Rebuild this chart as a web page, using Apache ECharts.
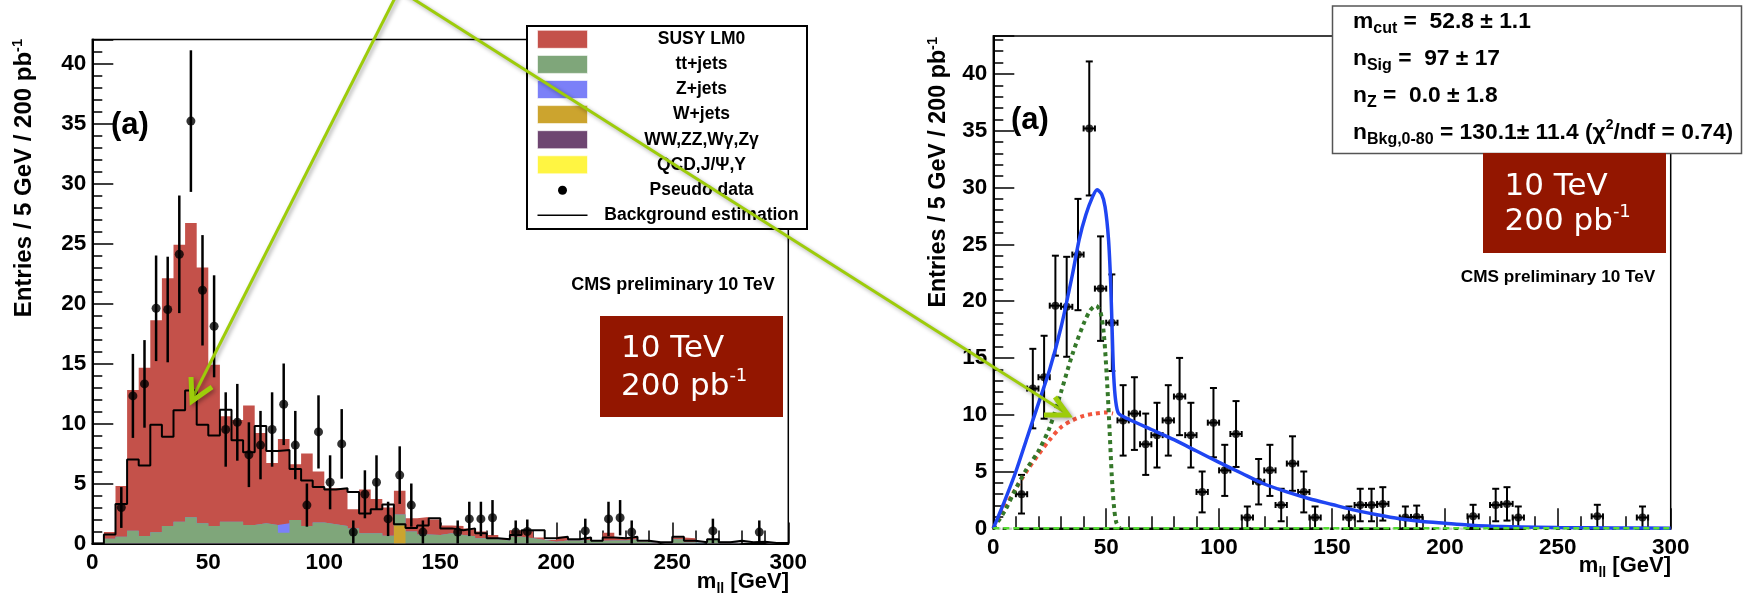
<!DOCTYPE html>
<html>
<head>
<meta charset="utf-8">
<script src="https://cdn.jsdelivr.net/npm/echarts@6.0.0/dist/echarts.min.js"></script>
<style>
html,body{margin:0;padding:0;background:#fff;}
#chart{width:1743px;height:597px;}
</style>
</head>
<body>
<div id="chart"></div>
<script>
// ---------------- data ----------------
const binEdges = [0,5,10,15,20,25,30,35,40,45,50,55,60,65,70,75,80,85,90,95,
  100,105,110,115,120,125,130,135,140,145,150,155,160,165,170,175,180,185,190,195,
  200,205,210,215,220,225,230,235,240,245,250,255,260,265,270,275,280,285,290,295,300];

const susyLM0 = [0,0.55,4.23,11.73,14.02,17.67,20.64,23.08,24.52,21.32,
  13.44,8.78,8.48,9.96,7.52,5.16,7.02,4.64,6.04,4.26,
  3.0,3.14,1.59,3.65,2.85,2.35,1.98,1.1,1.45,1.3,
  0.65,0.76,0.66,0.57,0.35,0.18,0.53,0.57,0.2,0.15,
  0.32,0.1,0.1,0,0.65,0.25,0.22,0.03,0,0,
  0.15,0.33,0,0,0,0,0,0,0,0];

const ttJets = [0,0.4,0.57,1.07,0.63,0.93,1.46,1.82,2.18,1.68,
  1.46,1.82,1.82,1.54,1.68,1.54,0.9,1.96,1.46,1.74,
  1.6,1.46,1.26,0.85,0.85,0.65,0.92,1.0,0.75,0.7,
  0.85,0.7,0.6,0.43,0.35,0.25,0.57,0.43,0.3,0.15,
  0.25,0.25,0.3,0.23,0.25,0.25,0.35,0.12,0,0.1,
  0.35,0.1,0,0.35,0.15,0,0,0,0.1,0.1];

const zJets = [0,0,0,0,0,0,0,0,0,0, 0,0,0,0,0,0,0.78,0,0,0,
  0,0,0,0,0,0,0,0,0,0, 0,0,0,0,0,0,0,0,0,0,
  0,0,0,0,0,0,0,0,0,0, 0,0,0,0,0,0,0,0,0,0];

const wJets = [0,0,0,0,0,0,0,0,0,0, 0,0,0,0,0,0,0,0,0,0,
  0,0,0,0,0,0,1.5,0,0,0, 0,0,0,0,0,0,0,0,0,0,
  0,0,0,0,0,0,0,0,0,0, 0,0,0,0,0,0,0,0,0,0];

const bkgEstimate = [0,0.75,3.3,7.0,6.5,9.9,8.9,11.1,12.75,9.9,
  9.0,11.15,8.6,7.6,9.8,7.7,7.8,6.2,5.25,4.7,
  4.5,4.6,4.3,2.5,2.85,3.25,1.6,1.3,1.5,2.1,
  1.26,1.1,1.26,0.85,0.43,0.35,0.7,1.1,1.1,0.43,
  0.57,0.35,0.5,0.23,0.5,0.43,0.57,0.23,0.1,0.1,
  0.57,0.23,0.1,0.35,0.1,0.23,0.1,0.15,0.05,0.05];

const pseudoData = [0,0,3.0,12.3,13.3,19.6,19.5,24.1,35.2,21.1,
  18.1,9.5,10.1,7.4,8.2,9.5,11.6,8.2,3.2,9.3,
  5.1,8.3,0.95,4.1,5.1,2.05,5.7,3.2,0.95,0,
  0,0.95,2.05,2.05,2.15,0,0.95,1.0,0,0,
  0,0,1.05,0,2.05,2.15,0.95,0,0,0,
  0,0,0,1.05,0,0,0,0.95,0,0];

const pseudoErr = [0,0,1.7,3.5,3.65,4.4,4.4,4.9,5.9,4.6,
  4.25,3.1,3.2,2.7,2.85,3.1,3.4,2.85,1.8,3.05,
  2.25,2.9,0.97,2.0,2.25,1.43,2.4,1.8,0.97,0,
  0,0.97,1.43,1.43,1.47,0,0.97,1.0,0,0,
  0,0,1.02,0,1.43,1.47,0.97,0,0,0,
  0,0,0,1.02,0,0,0,0.97,0,0];

// fit curves (right panel)
const fitX     = [0,5,10,15,20,25,30,35,38,41,44,46,48,49.5,51,52,52.7,53.3,54.2,55.5,60,70,80,90,100,110,120,130,140,150,160,170,180,190,200,210,225,250,275,300];
const fitTotal = [0,2.4,5.0,8.0,11.0,14.0,17.7,22.3,25.4,27.6,29.2,29.8,29.4,28.3,25.5,21.5,17.0,13.5,11.2,10.1,9.6,8.7,7.8,6.8,5.8,4.85,3.9,3.2,2.6,2.1,1.6,1.2,0.85,0.6,0.45,0.3,0.15,0.07,0.03,0.01];
const bkgFitX  = [0,5,10,15,20,25,30,35,40,45,50,53];
const bkgFit   = [0,1.8,3.5,5.1,6.5,7.8,8.9,9.5,9.9,10.1,10.2,10.1];
const sigFitX  = [0,5,10,15,20,25,30,35,40,43,45.5,47.5,49,50.5,51.5,52.5,53.5,54.5,56];
const sigFit   = [0,1.5,3.5,5.3,6.8,8.9,12.0,15.3,18.0,19.2,19.6,19.0,17.0,12.5,8.6,4.5,1.8,0.5,0];
const zFitX    = [0,300];
const zFit     = [0,0];

const legendNames = ['SUSY LM0','tt+jets','Z+jets','W+jets','WW,ZZ,W\u03b3,Z\u03b3','QCD,J/\u03a8,\u03a5','Pseudo data','Background estimation'];

// ---------------- styles ----------------
const F = "'Liberation Sans', Arial, Helvetica, sans-serif";
const C = {susy:'#c4514a', tt:'#7fa67a', z:'#7b80f8', w:'#cca42e', ww:'#6e4671', qcd:'#fff542',
  box:'#931600', arrow:'#9dcc0a', blue:'#1f45f2', gdot:'#35782a', rdot:'#f2553d', gdash:'#55dd33'};

const NB = pseudoData.length;
const centers = [];
for (let i = 0; i < NB; i++) centers.push((binEdges[i] + binEdges[i+1]) / 2);

function stepData(arr) {
  const d = arr.map((v, i) => [binEdges[i], v]);
  d.push([binEdges[NB], arr[NB-1]]);
  return d;
}
function zip(xs, ys) { return xs.map((x, i) => [x, ys[i]]); }
function addArr(a, b) { return a.map((v, i) => v + b[i]); }

// cumulative stack levels (W at bottom, then tt, Z, SUSY on top)
const levelW = wJets.slice();
const levelTT = addArr(levelW, ttJets);
const levelZ = addArr(levelTT, zJets);
const levelTotal = addArr(levelZ, susyLM0);

const pts = [], zeroPts = [];
for (let i = 0; i < NB; i++) {
  if (pseudoData[i] > 0) pts.push([centers[i], pseudoData[i], pseudoErr[i], binEdges[i], binEdges[i+1]]);
  else zeroPts.push([centers[i], 0]);
}

function xAxisCfg(gi, majorLen, minorLen) {
  return {gridIndex: gi, type: 'value', min: 0, max: 300, interval: 50,
    axisLine: {show: true, onZero: false, lineStyle: {color: '#000', width: 2}},
    axisTick: {show: true, inside: true, length: majorLen, lineStyle: {color: '#000', width: 1.5}},
    minorTick: {show: true, splitNumber: 5, length: minorLen, lineStyle: {color: '#000', width: 1.5}},
    splitLine: {show: false}, minorSplitLine: {show: false},
    axisLabel: {show: true, margin: 8, color: '#000', fontFamily: F, fontWeight: 'bold', fontSize: 22.5}
  };
}
function yAxisMain(gi, max) {
  return {gridIndex: gi, type: 'value', min: 0, max: max, interval: 5, position: 'left',
    axisLine: {show: true, onZero: false, lineStyle: {color: '#000', width: 2}},
    axisTick: {show: true, inside: true, length: 21, lineStyle: {color: '#000', width: 1.5}},
    splitLine: {show: false},
    axisLabel: {show: true, margin: 6, color: '#000', fontFamily: F, fontWeight: 'bold', fontSize: 22.5,
      formatter: v => (Math.abs(v % 5) < 1e-9 ? String(v) : '')}
  };
}
function yAxisMinor(gi, max) {
  return {gridIndex: gi, type: 'value', min: 0, max: max, interval: 1, position: 'left',
    axisLine: {show: false}, axisLabel: {show: false}, splitLine: {show: false},
    axisTick: {show: true, inside: true, length: 10, lineStyle: {color: '#000', width: 1.5}}
  };
}

function errLeft(params, api) {
  const x = api.value(0), y = api.value(1), e = api.value(2);
  const a = api.coord([x, y + e]), b = api.coord([x, Math.max(0, y - e)]);
  return {type: 'line', shape: {x1: a[0], y1: a[1], x2: b[0], y2: b[1]}, style: {stroke: '#000', lineWidth: 2.5}};
}
function errRight(params, api) {
  const x = api.value(0), y = api.value(1), e = api.value(2);
  const a = api.coord([x, y + e]), b = api.coord([x, Math.max(0, y - e)]);
  const l = api.coord([api.value(3), y]), r = api.coord([api.value(4), y]);
  const st = {stroke: '#000', lineWidth: 2};
  const ln = (x1, y1, x2, y2) => ({type: 'line', shape: {x1, y1, x2, y2}, style: st});
  return {type: 'group', children: [
    ln(a[0], a[1], b[0], b[1]),
    ln(a[0] - 3.5, a[1], a[0] + 3.5, a[1]),
    ln(b[0] - 3.5, b[1], b[0] + 3.5, b[1]),
    ln(l[0], l[1], r[0], r[1]),
    ln(l[0], l[1] - 3, l[0], l[1] + 3),
    ln(r[0], r[1] - 3, r[0], r[1] + 3)
  ]};
}

// overlay order: total first, lower cumulative levels drawn on top
const layers = [
  {name: 'SUSY LM0', data: levelTotal, color: C.susy},
  {name: 'Z+jets', data: levelZ, color: C.z},
  {name: 'tt+jets', data: levelTT, color: C.tt},
  {name: 'W+jets', data: levelW, color: C.w}
];

const series = [];
layers.forEach((l, k) => series.push({
  name: l.name, type: 'line', xAxisIndex: 0, yAxisIndex: 0, step: 'end',
  data: stepData(l.data), symbol: 'none', showSymbol: false, silent: true,
  lineStyle: {width: 0}, areaStyle: {color: l.color, opacity: 1, origin: 'start'}, z: 1 + k
}));
series.push({name: 'Background estimation', type: 'line', xAxisIndex: 0, yAxisIndex: 0, step: 'end',
  data: stepData(bkgEstimate), symbol: 'none', lineStyle: {color: '#000', width: 2}, z: 6});
series.push({type: 'custom', xAxisIndex: 0, yAxisIndex: 0, z: 7, data: pts, renderItem: errLeft});
series.push({name: 'Pseudo data', type: 'scatter', xAxisIndex: 0, yAxisIndex: 0, z: 8,
  data: pts.map(p => [p[0], p[1]]), symbol: 'circle', symbolSize: 9, itemStyle: {color: '#000'}});

// right panel
series.push({type: 'custom', xAxisIndex: 1, yAxisIndex: 2, z: 4, data: pts, renderItem: errRight});
series.push({type: 'scatter', xAxisIndex: 1, yAxisIndex: 2, z: 5,
  data: pts.map(p => [p[0], p[1]]), symbol: 'circle', symbolSize: 8, itemStyle: {color: '#000'}});
series.push({type: 'scatter', xAxisIndex: 1, yAxisIndex: 2, z: 5, data: zeroPts,
  symbol: 'emptyCircle', symbolSize: 6, itemStyle: {color: '#fff', borderColor: '#000', borderWidth: 1.2}});
series.push({type: 'line', xAxisIndex: 1, yAxisIndex: 2, data: zip(bkgFitX, bkgFit), smooth: 0.3, symbol: 'none',
  lineStyle: {color: C.rdot, width: 4, type: [4, 4]}, z: 6});
series.push({type: 'line', xAxisIndex: 1, yAxisIndex: 2, data: zip(sigFitX, sigFit), smooth: 0.3, symbol: 'none',
  lineStyle: {color: C.gdot, width: 4, type: [4, 4]}, z: 6});
series.push({type: 'line', xAxisIndex: 1, yAxisIndex: 2, data: zip(fitX, fitTotal), smooth: 0.25, symbol: 'none',
  lineStyle: {color: C.blue, width: 3.5}, z: 7});
series.push({type: 'line', xAxisIndex: 1, yAxisIndex: 2, data: zip(zFitX, zFit), symbol: 'none', clip: false,
  lineStyle: {color: C.gdash, width: 2.5, type: [6, 4]}, z: 9});

// ---------------- graphic (annotations, legend, texts) ----------------
function txt(x, y, text, o) {
  o = o || {};
  const st = {text: text, x: 0, y: 0, fontFamily: o.family || F, fontSize: o.size || 18,
    fontWeight: o.weight || 'bold', fill: o.color || '#000',
    align: o.align || 'left', textAlign: o.align || 'left', verticalAlign: 'middle', textVerticalAlign: 'middle'};
  if (o.rich) st.rich = o.rich;
  if (o.lineHeight) st.lineHeight = o.lineHeight;
  return {type: 'text', x: x, y: y, rotation: o.rotation || 0, z: 100, style: st};
}
function sub(size, lh, fam, wt, col) {
  return {fontSize: size, fontFamily: fam || F, fontWeight: wt || 'bold', fill: col || '#000', color: col || '#000', verticalAlign: 'bottom', lineHeight: lh};
}
function sup(size, lh, fam, wt, col) {
  return {fontSize: size, fontFamily: fam || F, fontWeight: wt || 'bold', fill: col || '#000', color: col || '#000', verticalAlign: 'top', lineHeight: lh};
}

const G = [];
// y axis titles
G.push(txt(24, 39, 'Entries / 5 GeV / 200 pb{p|-1}', {size: 24, align: 'right', rotation: Math.PI / 2, lineHeight: 28, rich: {p: sup(14.5, 18)}}));
G.push(txt(939, 37, 'Entries / 5 GeV / 200 pb{p|-1}', {size: 23.3, align: 'right', rotation: Math.PI / 2, lineHeight: 28, rich: {p: sup(14.5, 18)}}));
// x axis titles
G.push(txt(789, 582, 'm{s|ll} [GeV]', {size: 22, align: 'right', lineHeight: 28, rich: {s: sub(14, 10)}}));
G.push(txt(1671, 566, 'm{s|ll} [GeV]', {size: 22, align: 'right', lineHeight: 28, rich: {s: sub(14, 10)}}));
// (a)
G.push(txt(111, 125, '(a)', {size: 31}));
G.push(txt(1011, 120, '(a)', {size: 31}));
// CMS preliminary
G.push(txt(673, 285, 'CMS preliminary 10 TeV', {size: 18, align: 'center'}));
G.push(txt(1558, 277, 'CMS preliminary 10 TeV', {size: 17.2, align: 'center'}));

// left legend box
G.push({type: 'rect', z: 99, shape: {x: 527, y: 26, width: 280, height: 203}, style: {fill: '#fff', stroke: '#000', lineWidth: 2}});
const swCols = [C.susy, C.tt, C.z, C.w, C.ww, C.qcd];
const rowY = [39.3, 64.4, 89.5, 114.6, 139.7, 164.8, 190.2, 215.2];
swCols.forEach((c, i) => G.push({type: 'rect', z: 100, shape: {x: 537.5, y: rowY[i] - 9, width: 50, height: 18}, style: {fill: c, stroke: 'rgba(255,255,255,0.6)', lineWidth: 1}}));
G.push({type: 'circle', z: 100, shape: {cx: 562.5, cy: rowY[6], r: 4.5}, style: {fill: '#000'}});
G.push({type: 'line', z: 100, shape: {x1: 537.5, y1: rowY[7], x2: 587.5, y2: rowY[7]}, style: {stroke: '#000', lineWidth: 1.5}});
legendNames.forEach((n, i) => G.push(txt(701.5, rowY[i], n, {size: 17.5, align: 'center'})));

// red boxes
G.push({type: 'rect', z: 100, shape: {x: 600, y: 316, width: 183, height: 101}, style: {fill: C.box}});
G.push(txt(621, 348.5, '10 TeV', {family: "'DejaVu Sans', Verdana, sans-serif", weight: 'normal', size: 31, color: '#fff'}));
G.push(txt(621, 386.5, '200 pb{p|-1}', {family: "'DejaVu Sans', Verdana, sans-serif", weight: 'normal', size: 31, color: '#fff', lineHeight: 38,
  rich: {p: sup(18, 24, "'DejaVu Sans', Verdana, sans-serif", 'normal', '#fff')}}));
G.push({type: 'rect', z: 100, shape: {x: 1483, y: 153, width: 183, height: 100}, style: {fill: C.box}});
G.push(txt(1504.5, 186.5, '10 TeV', {family: "'DejaVu Sans', Verdana, sans-serif", weight: 'normal', size: 31, color: '#fff'}));
G.push(txt(1504.5, 222, '200 pb{p|-1}', {family: "'DejaVu Sans', Verdana, sans-serif", weight: 'normal', size: 31, color: '#fff', lineHeight: 38,
  rich: {p: sup(18, 24, "'DejaVu Sans', Verdana, sans-serif", 'normal', '#fff')}}));

// stats box
G.push({type: 'rect', z: 99, shape: {x: 1332.5, y: 6, width: 409, height: 147.5}, style: {fill: '#fff', stroke: '#555', lineWidth: 1.5}});
const sr = {s: sub(16, 11), p: sup(14, 15)};
G.push(txt(1353, 22, 'm{s|cut} =  52.8 \u00b1 1.1', {size: 22.8, lineHeight: 30, rich: sr}));
G.push(txt(1353, 58.5, 'n{s|Sig} =  97 \u00b1 17', {size: 22.8, lineHeight: 30, rich: sr}));
G.push(txt(1353, 96, 'n{s|Z} =  0.0 \u00b1 1.8', {size: 22.8, lineHeight: 30, rich: sr}));
G.push(txt(1353, 133, 'n{s|Bkg,0-80} = 130.1\u00b1 11.4 (\u03c7{p|2}/ndf = 0.74)', {size: 22.8, lineHeight: 30, rich: sr}));

// arrows
const shadow = {shadowBlur: 4, shadowColor: 'rgba(0,0,0,0.35)', shadowOffsetX: 2, shadowOffsetY: 2};
G.push({type: 'polyline', z: 110, shape: {points: [[400, -12], [192, 399]]}, style: Object.assign({stroke: C.arrow, lineWidth: 3, fill: null}, shadow)});
G.push({type: 'polyline', z: 110, shape: {points: [[191, 377], [192, 401], [212, 387]]}, style: Object.assign({stroke: C.arrow, lineWidth: 5, fill: null, lineJoin: 'miter'}, shadow)});
G.push({type: 'polyline', z: 110, shape: {points: [[396, -12], [1066, 413]]}, style: Object.assign({stroke: C.arrow, lineWidth: 3, fill: null}, shadow)});
G.push({type: 'polyline', z: 110, shape: {points: [[1055, 397], [1068, 415], [1044, 415]]}, style: Object.assign({stroke: C.arrow, lineWidth: 5, fill: null, lineJoin: 'miter'}, shadow)});

const option = {
  animation: false,
  backgroundColor: '#fff',
  grid: [
    {left: 92.3, top: 39.5, width: 696, height: 504, show: true, borderColor: '#000', borderWidth: 1.5, containLabel: false},
    {left: 993.3, top: 36, width: 677.4, height: 492.3, show: true, borderColor: '#000', borderWidth: 1.5, containLabel: false}
  ],
  xAxis: [xAxisCfg(0, 21, 13), xAxisCfg(1, 20, 12)],
  yAxis: [yAxisMain(0, 42), yAxisMinor(0, 42), yAxisMain(1, 43.34), yAxisMinor(1, 43.34)],
  series: series,
  graphic: {elements: G}
};

const chart = echarts.init(document.getElementById('chart'), null, {renderer: 'canvas'});
chart.setOption(option);
</script>
</body>
</html>
